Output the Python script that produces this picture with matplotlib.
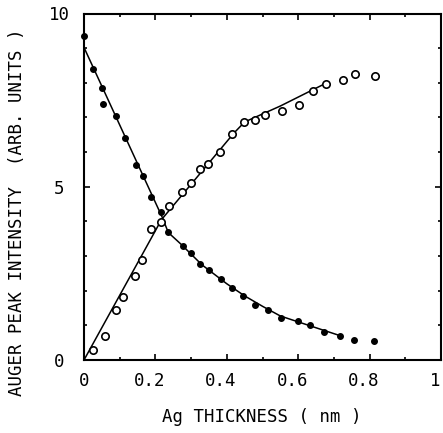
import matplotlib
matplotlib.use("Agg")
import matplotlib.pyplot as plt
import matplotlib.transforms as mtransforms
from matplotlib.ticker import MultipleLocator

# Filled dots: decreasing Auger peak
dec_x = [0.0, 0.026, 0.051, 0.054, 0.091, 0.116, 0.145, 0.166, 0.187, 0.216,
         0.236, 0.276, 0.301, 0.324, 0.350, 0.383, 0.415, 0.445, 0.478, 0.515,
         0.552, 0.599, 0.633, 0.673, 0.717, 0.755, 0.813]
dec_y = [9.34, 8.41, 7.85, 7.38, 7.04, 6.41, 5.62, 5.30, 4.70, 4.26,
         3.68, 3.28, 3.08, 2.77, 2.60, 2.33, 2.09, 1.85, 1.60, 1.43,
         1.20, 1.13, 1.00, 0.81, 0.70, 0.59, 0.54]

# Open circles: increasing Auger peak
inc_x = [0.024, 0.059, 0.091, 0.110, 0.142, 0.163, 0.187, 0.217, 0.238, 0.275,
         0.301, 0.326, 0.347, 0.380, 0.415, 0.447, 0.480, 0.508, 0.555, 0.603,
         0.642, 0.678, 0.725, 0.759, 0.816]
inc_y = [0.28, 0.70, 1.44, 1.81, 2.41, 2.90, 3.79, 3.99, 4.45, 4.86,
         5.12, 5.51, 5.67, 6.01, 6.53, 6.86, 6.93, 7.06, 7.20, 7.35,
         7.75, 7.97, 8.09, 8.25, 8.21]

# Fitted curves
dec_fit_x = [0.0, 0.22, 0.236, 0.273, 0.33, 0.40, 0.45, 0.50, 0.55, 0.60, 0.65, 0.715]
dec_fit_y = [9.02, 4.10, 3.68, 3.33, 2.75, 2.20, 1.85, 1.55, 1.27, 1.10, 0.93, 0.71]
inc_fit_x = [0.0, 0.217, 0.42, 0.45, 0.55, 0.68]
inc_fit_y = [0.0, 4.05, 6.55, 6.87, 7.33, 8.00]

x_ticks = [0, 0.2, 0.4, 0.6, 0.8, 1]
x_labels = ["0", "0.2", "0.4", "0.6", "0.8", "1"]
y_ticks = [0, 5, 10]
y_labels = ["0", "5", "10"]

plt.rcParams['font.family'] = ['DejaVu Sans Mono', 'DejaVu Sans']

fig = plt.figure(figsize=(4.43, 4.33), dpi=100)
ax = fig.add_axes([84 / 443, 1 - 360 / 433, (441 - 84) / 443, (360 - 13.5) / 433])

ax.plot(dec_fit_x, dec_fit_y, color='black', lw=1.1)
ax.plot(inc_fit_x, inc_fit_y, color='black', lw=1.1)
ax.plot(dec_x, dec_y, 'o', color='black', ms=4, clip_on=False)
ax.plot(inc_x, inc_y, 'o', mfc='white', mec='black', mew=1.2, ms=5.3, clip_on=False)

ax.set_xlim(0, 1)
ax.set_ylim(0, 10)
ax.set_xticks(x_ticks)
ax.set_xticklabels(x_labels)
ax.set_yticks(y_ticks)
ax.set_yticklabels(y_labels)
ax.xaxis.set_minor_locator(MultipleLocator(0.1))
ax.yaxis.set_minor_locator(MultipleLocator(1))
ax.tick_params(which='both', direction='in', top=True, right=True, width=1.2)
ax.tick_params(which='major', length=4, labelsize=12.5)
ax.tick_params(which='minor', length=2.5)
ax.tick_params(axis='x', pad=9)
ax.tick_params(axis='y', pad=18)
for lab in ax.get_yticklabels():
    lab.set_horizontalalignment('center')
shift = mtransforms.ScaledTranslation(-6 / 100, 0, fig.dpi_scale_trans)
for lab in ax.get_xticklabels()[1:]:
    lab.set_transform(lab.get_transform() + shift)
for sp in ax.spines.values():
    sp.set_linewidth(1.5)

fig.text(262 / 443, 1 - 417 / 433, "Ag THICKNESS ( nm )", ha='center', va='center', fontsize=12.5)
fig.text(17 / 443, 1 - 212 / 433, "AUGER PEAK INTENSITY  (ARB. UNITS )", ha='center', va='center',
         rotation=90, fontsize=12.5)

fig.savefig("out.png", dpi=100)
